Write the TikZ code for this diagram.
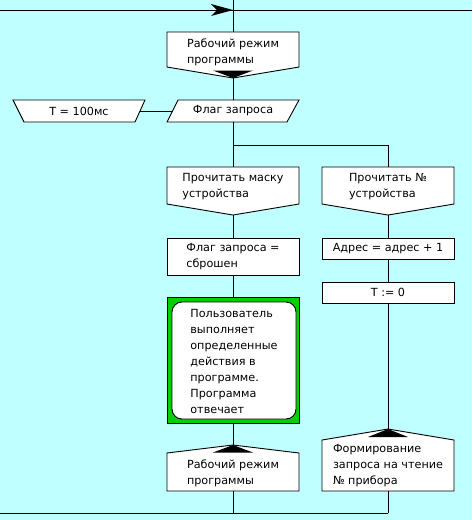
\documentclass[tikz,border=0pt]{standalone}
\usepackage{fontspec}
\setmainfont{DejaVu Sans}
\definecolor{bgc}{RGB}{191,255,255}
\definecolor{grn}{RGB}{0,208,0}
\begin{document}
\begin{tikzpicture}[x=1pt,y=-1pt,line width=0.9pt,
  txt/.style={align=left,inner sep=0pt,font=\fontsize{11.2}{16}\selectfont},
  shp/.style={draw=black,fill=white},
  tipfill/.style={fill=black,draw=none},
  conn/.style={draw=black}]
\fill[bgc] (0,0) rectangle (472,520);
\useasboundingbox (0,0) rectangle (472,520);

% shapes
\path[shp] (167,32) -- (299,32) -- (299,67) -- (233,78) -- (167,67) -- cycle;
\path[tipfill] (233,78) -- (253,70.5) -- (213,70.5) -- cycle;
\path[shp] (178,100) -- (299,100) -- (287,122) -- (167,122) -- cycle;
\path[shp] (13,100) -- (145,100) -- (135,122) -- (24,122) -- cycle;
\path[shp] (167,167) -- (299,167) -- (299,204) -- (233,215) -- (167,204) -- cycle;
\path[shp] (322,167) -- (454,167) -- (454,204) -- (388,215) -- (322,204) -- cycle;
\path[shp] (167,238) rectangle (299,275);
\path[shp] (322,238) rectangle (454,259);
\path[shp] (322,282) rectangle (454,303);
\path[draw=black,fill=grn] (167,297) rectangle (299,423);
\path[shp,rounded corners=10pt] (172,302) rectangle (296,419);
\path[shp] (167,453) -- (233,445) -- (299,453) -- (299,491) -- (167,491) -- cycle;
\path[tipfill] (233,445) -- (253,452.5) -- (213,452.5) -- cycle;
\path[shp] (322,440) -- (388,429) -- (454,440) -- (454,491) -- (322,491) -- cycle;
\path[tipfill] (388,429) -- (408,437) -- (368,437) -- cycle;

% text nodes
\node[txt] (work1) at (233,52) {Рабочий режим\\программы};
\node[txt] (flag) at (233,111) {Флаг запроса};
\node[txt] (t100) at (79,111) {T = 100мс};
\node[txt] (mask) at (233,186.5) {Прочитать маску\\устройства};
\node[txt] (num) at (388,186.5) {Прочитать №\\устройства};
\node[txt] (reset) at (233,257) {Флаг запроса =\\сброшен};
\node[txt] (addr) at (388,248.5) {Адрес = адрес + 1};
\node[txt] (tzero) at (388,292.5) {T := 0};
\node[txt] (user) at (234,361) {Пользователь\\выполняет\\определенные\\действия в\\программе.\\Программа\\отвечает};
\node[txt] (work2) at (233,473) {Рабочий режим\\программы};
\node[txt] (form) at (388,466) {Формирование\\запроса на чтение\\№ прибора};

% connection coordinates
\coordinate (top) at (233,0);
\coordinate (w1top) at (233,32);
\coordinate (w1tip) at (233,78);
\coordinate (flagtop) at (233,100);
\coordinate (flagbot) at (233,122);
\coordinate (flagleft) at (172.5,111);
\coordinate (tright) at (140,111);
\coordinate (split) at (233,145);
\coordinate (splitr) at (388,145);
\coordinate (masktop) at (233,167);
\coordinate (numtop) at (388,167);
\coordinate (masktip) at (233,215);
\coordinate (numtip) at (388,215);
\coordinate (resettop) at (233,238);
\coordinate (resetbot) at (233,275);
\coordinate (addrtop) at (388,238);
\coordinate (addrbot) at (388,259);
\coordinate (tzerotop) at (388,282);
\coordinate (tzerobot) at (388,303);
\coordinate (usertop) at (233,297);
\coordinate (userbot) at (233,423);
\coordinate (w2tip) at (233,445);
\coordinate (w2bot) at (233,491);
\coordinate (formtip) at (388,429);
\coordinate (formbot) at (388,491);
\coordinate (joinl) at (233,513);
\coordinate (joinr) at (388,513);
\coordinate (bottomleft) at (0,513);
\coordinate (topleft) at (0,10);
\coordinate (topright) at (472,10);
\coordinate (arrowin) at (233,10);

% connectors
\draw[conn] (top) -- (w1top);
\draw[conn] (w1tip) -- (flagtop);
\draw[conn] (flagbot) -- (split);
\draw[conn] (tright) -- (flagleft);
\draw[conn] (split) -- (masktop);
\draw[conn] (split) -- (splitr) -- (numtop);
\draw[conn] (masktip) -- (resettop);
\draw[conn] (resetbot) -- (usertop);
\draw[conn] (userbot) -- (w2tip);
\draw[conn] (numtip) -- (addrtop);
\draw[conn] (addrbot) -- (tzerotop);
\draw[conn] (tzerobot) -- (formtip);
\draw[conn] (w2bot) -- (joinl);
\draw[conn] (formbot) -- (joinr);
\draw[conn] (bottomleft) -- (joinr);
\draw[conn] (topleft) -- (topright);
\path[fill=black] (arrowin) -- (211,4) -- (217,10) -- (211,16) -- cycle;
\end{tikzpicture}
\end{document}
